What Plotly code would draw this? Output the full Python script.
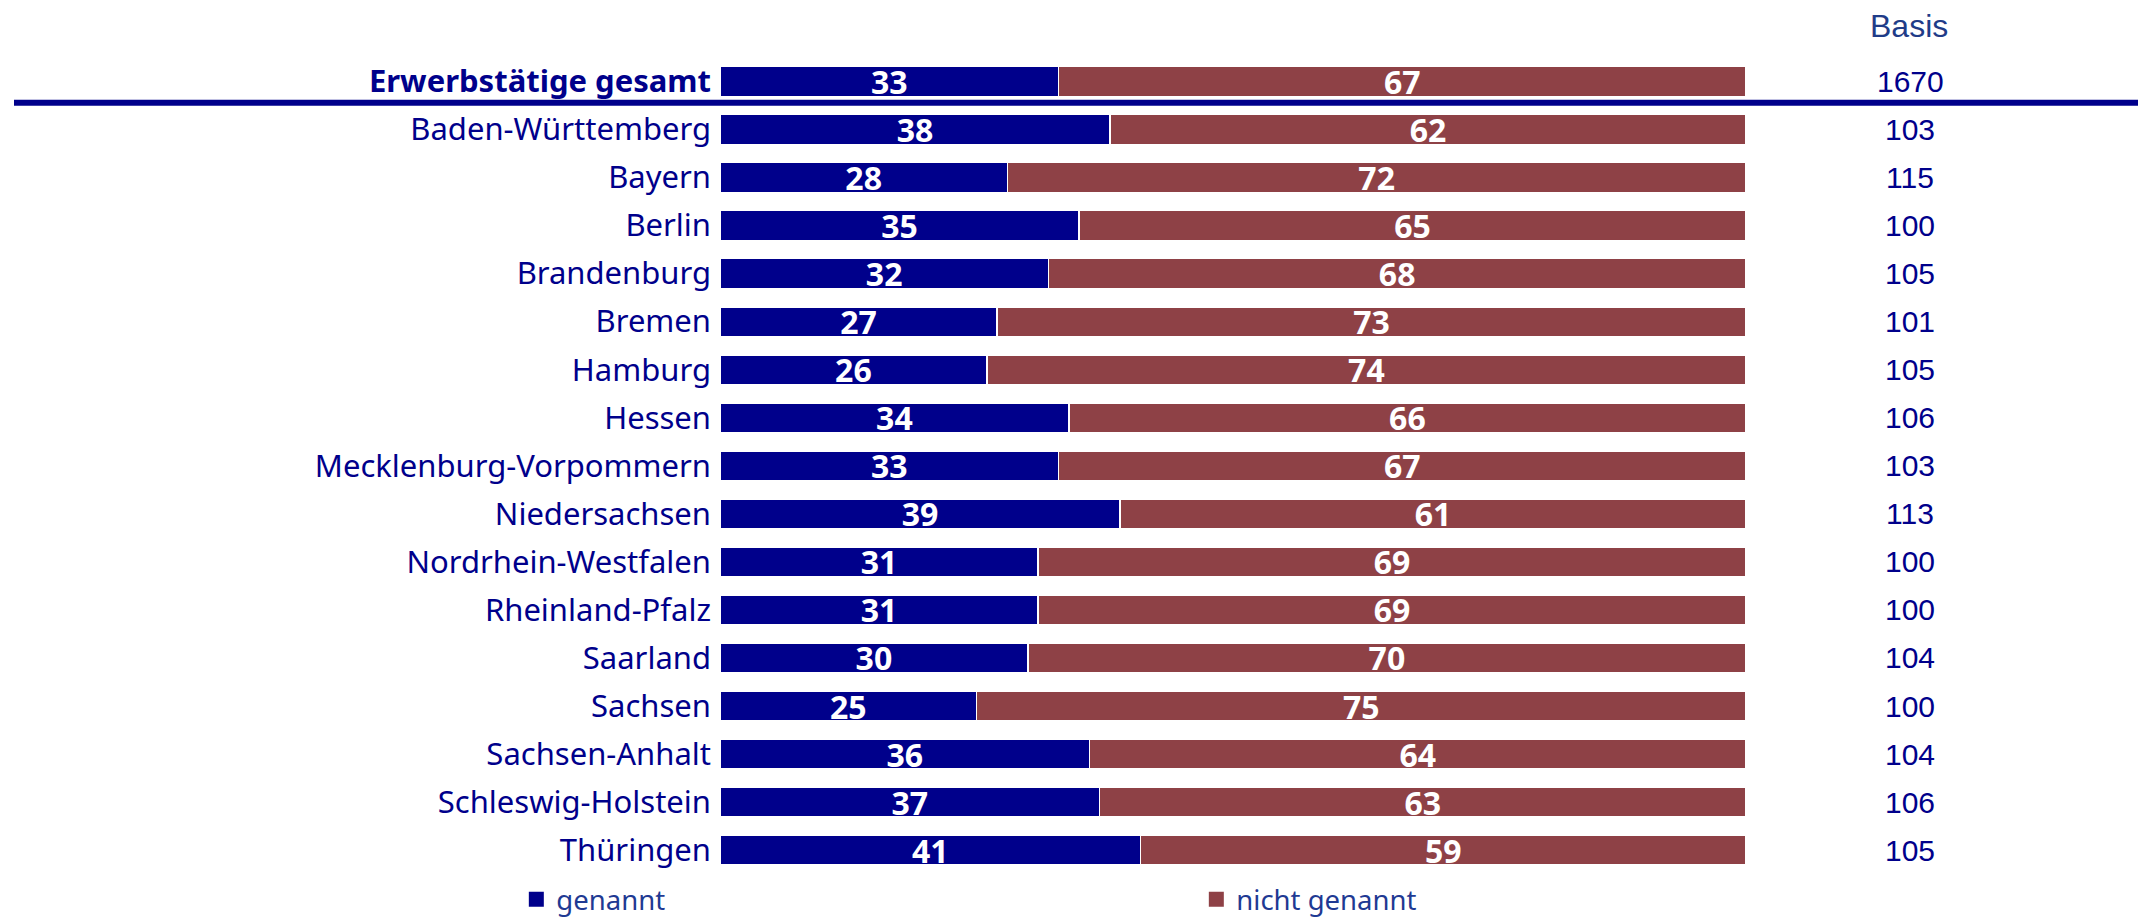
import plotly.graph_objects as go

categories = ["Erwerbstätige gesamt", "Baden-Württemberg", "Bayern", "Berlin", "Brandenburg",
              "Bremen", "Hamburg", "Hessen", "Mecklenburg-Vorpommern", "Niedersachsen",
              "Nordrhein-Westfalen", "Rheinland-Pfalz", "Saarland", "Sachsen",
              "Sachsen-Anhalt", "Schleswig-Holstein", "Thüringen"]
genannt = [33, 38, 28, 35, 32, 27, 26, 34, 33, 39, 31, 31, 30, 25, 36, 37, 41]
nicht_genannt = [67, 62, 72, 65, 68, 73, 74, 66, 67, 61, 69, 69, 70, 75, 64, 63, 59]
basis = [1670, 103, 115, 100, 105, 101, 105, 106, 103, 113, 100, 100, 104, 100, 104, 106, 105]

BLUE = "#00008B"
RED = "#8E4146"
LABEL_FONT = "Noto Sans"

tick_text = ["<b>" + categories[0] + "</b>"] + categories[1:]

fig = go.Figure()
for name, vals, col in [("genannt", genannt, BLUE), ("nicht genannt", nicht_genannt, RED)]:
    fig.add_trace(go.Bar(
        y=categories, x=vals, name=name, orientation="h",
        marker=dict(color=col, line=dict(color="white", width=1.5)),
        width=0.62, showlegend=False,
        texttemplate="%{x}", textposition="inside", insidetextanchor="middle",
        constraintext="none", textangle=0,
        textfont=dict(family=LABEL_FONT, size=32, color="white", weight="bold"),
        hoverinfo="skip",
    ))
    # legend entry with a larger square swatch
    fig.add_trace(go.Scatter(
        x=[None], y=[None], mode="markers", name=name,
        marker=dict(symbol="square", size=15, color=col),
        showlegend=True, hoverinfo="skip",
    ))

annotations = [dict(xref="paper", yref="y", x=0.8934, y=c, text=str(b), showarrow=False,
                    xanchor="center", yanchor="middle",
                    font=dict(family="Liberation Sans", size=30, color=BLUE))
               for c, b in zip(categories, basis)]
annotations.append(dict(xref="paper", yref="paper", x=0.8930, y=1 - 26.5 / 924, text="Basis",
                        showarrow=False, xanchor="center", yanchor="middle",
                        font=dict(family="Liberation Sans", size=32, color="#1F3C88")))

fig.update_layout(
    width=2138, height=924,
    margin=dict(l=0, r=0, t=0, b=0),
    paper_bgcolor="white", plot_bgcolor="white",
    barmode="stack",
    showlegend=True,
    legend=dict(orientation="h", x=0.2415, xanchor="left", y=0.016, yanchor="middle",
                entrywidth=635, entrywidthmode="pixels", traceorder="normal",
                itemsizing="trace",
                font=dict(family=LABEL_FONT, size=27.5, color="#1F3A93"),
                bgcolor="rgba(0,0,0,0)"),
    xaxis=dict(domain=[720 / 2138, 1746 / 2138], range=[0, 100], visible=False, fixedrange=True),
    yaxis=dict(domain=[0, 1], range=[17.328, -1.694], type="category",
               categoryorder="array", categoryarray=categories,
               tickvals=categories, ticktext=tick_text, showgrid=False, zeroline=False,
               showline=False, ticks="", ticklabelstandoff=8,
               tickfont=dict(family=LABEL_FONT, size=31, color=BLUE), fixedrange=True),
    annotations=annotations,
    shapes=[dict(type="line", xref="paper", yref="y", x0=14 / 2138, x1=1, y0=0.443, y1=0.443,
                 line=dict(color=BLUE, width=6))],
)

fig.write_html("out.html", config={"displayModeBar": False, "staticPlot": True})

# remove the browser's default page margin so the figure sits at the window origin
with open("out.html", "r", encoding="utf-8") as f:
    html = f.read()
html = html.replace("<head>", "<head><style>html,body{margin:0;padding:0;}</style>", 1)
with open("out.html", "w", encoding="utf-8") as f:
    f.write(html)
